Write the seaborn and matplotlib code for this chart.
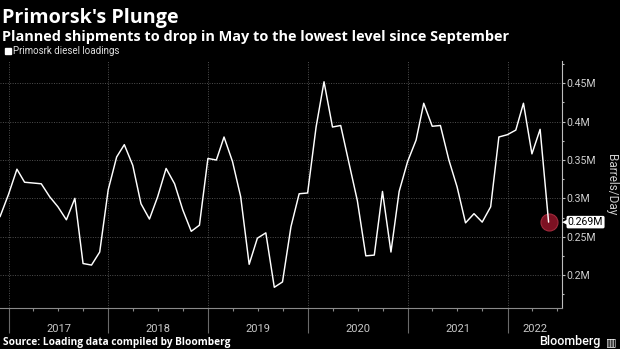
import numpy as np
import pandas as pd
import matplotlib
matplotlib.use("Agg")
import matplotlib.pyplot as plt
import matplotlib.dates as mdates
import matplotlib.transforms as mtransforms
from matplotlib.lines import Line2D
from matplotlib.ticker import FuncFormatter, MultipleLocator
import seaborn as sns

# ---------------- data ----------------
start_month = "2016-11"
end_month = "2022-05"
loadings_kbd = [276, 305,
                338, 321, 320, 319, 302, 289, 272, 300, 215, 213, 230, 311,
                354, 370, 343, 293, 273, 302, 339, 319, 285, 257, 265, 352,
                350, 380, 348, 302, 214, 248, 255, 184, 191, 263, 306, 307,
                393, 452, 393, 395, 345, 297, 225, 226, 309, 230, 309, 348,
                376, 424, 394, 395, 350, 315, 268, 280, 269, 289, 380, 383,
                389, 424, 358, 390, 269]
year_labels = ["2017", "2018", "2019", "2020", "2021", "2022"]
y_ticks = [200000, 250000, 300000, 350000, 400000, 450000]
series_name = "Primosrk diesel loadings"
title = "Primorsk's Plunge"
subtitle = "Planned shipments to drop in May to the lowest level since September"
source = "Source: Loading data compiled by Bloomberg"
unit_label = "Barrels/Day"
brand = "Bloomberg"

dates = pd.date_range(start_month + "-01", end_month + "-01", freq="MS") + pd.offsets.MonthEnd(0)
df = pd.DataFrame({"date": dates, "value": np.array(loadings_kbd, dtype=float) * 1000.0})

# ---------------- style ----------------
sns.set_theme(style="dark")
plt.rcParams["font.family"] = ["Roboto", "DejaVu Sans"]
plt.rcParams["axes.facecolor"] = "black"
plt.rcParams["figure.facecolor"] = "black"
bold_family = ["Open Sans", "Roboto", "DejaVu Sans"]

W, H = 620, 349
fig = plt.figure(figsize=(W / 100, H / 100), dpi=100, facecolor="black")
ax_left, ax_right, ax_top, ax_bottom = 0.0, 561.7, 61.0, 307.7
ax = fig.add_axes([ax_left / W, 1 - ax_bottom / H, (ax_right - ax_left) / W, (ax_bottom - ax_top) / H])
ax.set_facecolor("black")

sns.lineplot(data=df, x="date", y="value", ax=ax, color="white", lw=1.05, zorder=4, legend=False)
last = df.iloc[[-1]]
sns.scatterplot(data=last, x="date", y="value", ax=ax, s=150, color="#7c1122",
                edgecolor="#a02a3c", linewidth=0.8, zorder=3, legend=False)

ax.set_xlim(pd.Timestamp("2016-11-30"), pd.Timestamp("2022-07-18"))
ax.set_ylim(157400, 479100)
ax.set_xlabel("")
ax.set_ylabel("")

for s in ["left", "top"]:
    ax.spines[s].set_visible(False)
ax.spines["bottom"].set_color("#8a8a8a")
ax.spines["bottom"].set_linewidth(0.8)
ax.spines["right"].set_color("#bdbdbd")
ax.spines["right"].set_linewidth(0.8)

# y axis on the right
ax.yaxis.tick_right()
ax.set_yticks(y_ticks)
ax.yaxis.set_major_formatter(FuncFormatter(lambda v, p: f"{v / 1e6:g}M"))
ax.yaxis.set_minor_locator(MultipleLocator(25000))
ax.tick_params(axis="y", which="major", right=True, left=False, length=2.5, width=0.8,
               color="#bdbdbd", labelcolor="#d0d0d0", labelsize=7.6, pad=1.2)
ax.tick_params(axis="y", which="minor", right=True, left=False, length=1.6, width=0.8, color="#bdbdbd")

# x axis: year separators + quarterly minor ticks
ax.xaxis.set_major_locator(mdates.YearLocator())
ax.xaxis.set_minor_locator(mdates.MonthLocator(bymonth=[4, 7, 10]))
ax.tick_params(axis="x", which="major", bottom=True, length=18, width=0.8, color="#6a6a6a",
               labelbottom=False)
ax.tick_params(axis="x", which="minor", bottom=True, length=1.8, width=0.8, color="#8a8a8a")

ax.grid(True, which="major", axis="both", color="#505050", lw=0.7, ls=(0, (1, 1.5)))

xl = ax.get_xlim()
trans_x = mtransforms.blended_transform_factory(ax.transData, ax.transAxes)
for lab in year_labels:
    a = mdates.date2num(pd.Timestamp(f"{lab}-01-01"))
    b = min(mdates.date2num(pd.Timestamp(f"{int(lab) + 1}-01-01")), xl[1])
    ax.text((a + b) / 2, -(332.3 - ax_bottom) / (ax_bottom - ax_top), lab, transform=trans_x,
            ha="center", va="baseline", color="#c8c8c8", fontsize=8, clip_on=False)

# last value label
last_val = df["value"].iloc[-1]
trans_y = mtransforms.blended_transform_factory(ax.transAxes, ax.transData)
xa = 567.8 / ax_right
ax.text(xa, last_val, f"{last_val / 1e6:.3f}M", transform=trans_y, ha="left", va="center",
        fontsize=7.6, color="black", zorder=10, clip_on=False,
        bbox=dict(boxstyle="round,pad=0.12,rounding_size=0.15", fc="white", ec="none"))
ax.text(567.2 / ax_right, last_val, "\u25c0", transform=trans_y, ha="right", va="center",
        fontsize=5, color="white", family=["DejaVu Sans"], zorder=10, clip_on=False)

# titles & annotations
fig.text(2 / W, 1 - 22.5 / H, title, fontsize=14.2, fontweight="bold", color="white",
         va="baseline", family=bold_family)
fig.text(2 / W, 1 - 41.5 / H, subtitle, fontsize=10.45, fontweight="bold", color="white",
         va="baseline", family=bold_family)
fig.text(3 / W, 1 - 345.5 / H, source, fontsize=7.25, fontweight="bold", color="white",
         va="baseline", family=bold_family)
fig.text(601 / W, 1 - 345 / H, brand, fontsize=9, fontweight="medium", color="white",
         ha="right", va="baseline")
fig.text(605.5 / W, 1 - 345 / H, "\u25a5", fontsize=8, color="white", ha="left", va="baseline",
         family=["DejaVu Sans"])
fig.text(611 / W, 1 - 185 / H, unit_label, rotation=270, ha="center", va="center",
         fontsize=8.5, color="#cfcfcf")

handle = Line2D([], [], marker="s", ls="none", color="white", markersize=4.3)
fig.legend([handle], [series_name], loc="upper left", bbox_to_anchor=(4.6 / W, 1 - 46 / H),
           frameon=False, fontsize=7.0, handlelength=0.7, handletextpad=0.2, borderpad=0,
           borderaxespad=0, labelcolor="#e0e0e0")

fig.savefig("out.png", dpi=100, facecolor="black")
